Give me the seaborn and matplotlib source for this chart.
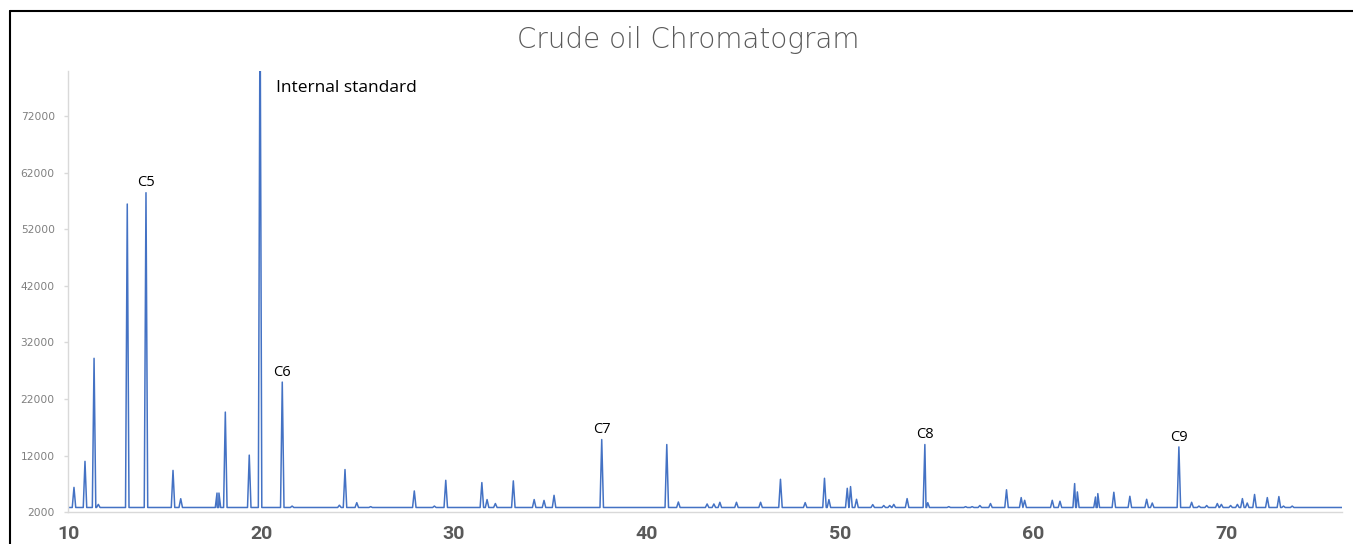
import numpy as np
import pandas as pd
import matplotlib
matplotlib.use("Agg")
import matplotlib.pyplot as plt
from matplotlib.lines import Line2D
import seaborn as sns

# ---- data ----
retention_times = [10.31, 10.88, 11.35, 11.57, 13.07, 14.04, 15.44, 15.84, 17.72, 17.82, 18.15, 19.39,
                   19.95, 21.10, 21.61,
                   24.06, 24.35, 24.96, 25.68, 27.94, 28.98, 29.57, 31.44, 31.71, 32.14, 33.07, 34.15,
                   34.66, 35.18, 37.65, 41.02, 41.62,
                   43.11, 43.46, 43.77, 44.63, 45.88, 46.91, 48.19, 49.19, 49.42, 50.37, 50.54, 50.85,
                   51.69, 52.26, 52.57, 52.78, 53.47, 54.39, 54.54, 55.63, 56.50, 56.84, 57.24, 57.79,
                   58.62, 59.38, 59.56, 60.99, 61.39, 62.15, 62.29, 63.23, 63.35, 64.18, 65.01, 65.88,
                   66.17, 67.55, 68.21, 68.59, 68.99, 69.54, 69.75, 70.23, 70.58, 70.84, 71.09, 71.47,
                   72.13, 72.73, 72.97, 73.42]
peak_heights = [6400, 11000, 29200, 3400, 56450, 58450, 9400, 4400, 5400, 5400, 19700, 12100,
                95000, 25000, 3100,
                3250, 9550, 3700, 3000, 5770, 3100, 7650, 7250, 4250, 3550, 7550, 4250,
                4100, 5000, 14850, 13970, 3820,
                3470, 3470, 3770, 3770, 3770, 7830, 3710, 8010, 4240, 6240, 6540, 4300,
                3360, 3200, 3200, 3400, 4420, 13970, 3700, 3000, 3000, 3000, 3200, 3550,
                5980, 4600, 4120, 4120, 3950, 7070, 5600, 4700, 5300, 5540, 4830, 4300,
                3640, 13550, 3770, 3100, 3200, 3550, 3400, 3200, 3400, 4420, 3640, 5150,
                4600, 4780, 3100, 3100]
baseline_signal = 2850
run_start, run_end = 10.0, 76.0

annot_labels = ["C5", "C6", "C7", "C8", "C9"]
annot_rt = [14.04, 21.10, 37.65, 54.39, 67.55]
annot_h = [58450, 25000, 14850, 13970, 13550]

y_ticks = [2000, 12000, 22000, 32000, 42000, 52000, 62000, 72000]
x_ticks = [10, 20, 30, 40, 50, 60, 70]

# ---- build the trace (base - apex - base for each peak) ----
hw = 0.09
xs = [run_start, run_end]
ys = [baseline_signal, baseline_signal]
for t, h in zip(retention_times, peak_heights):
    xs += [t - hw, t, t + hw]
    ys += [baseline_signal, h, baseline_signal]
order = np.argsort(np.array(xs), kind="stable")
df = pd.DataFrame({"rt": np.array(xs)[order], "signal": np.array(ys)[order]})

# ---- plot ----
sns.set_style("white")
plt.rcParams["font.family"] = ["DejaVu Sans"]

W, H = 1353, 544
fig = plt.figure(figsize=(W / 100, H / 100), dpi=100)
ax = fig.add_axes([68 / W, 1 - 512.3 / H, (1342 - 68) / W, (512.3 - 70.7) / H])

sns.lineplot(data=df, x="rt", y="signal", ax=ax, estimator=None, sort=False,
             color="#4472C4", linewidth=1.1)

ax.set_xlim(run_start, run_end)
ax.set_ylim(2000, 80000)
ax.set_xticks(x_ticks)
ax.set_yticks(y_ticks)
ax.set_xlabel("")
ax.set_ylabel("")

for side in ["top", "right"]:
    ax.spines[side].set_visible(False)
for side in ["left", "bottom"]:
    ax.spines[side].set_color("#D9D9D9")
    ax.spines[side].set_linewidth(1.0)

ax.tick_params(axis="y", length=3, width=1, color="#D9D9D9", pad=6.5,
               labelsize=7.7, labelcolor="#7F7F7F", direction="out", left=True)
ax.tick_params(axis="x", length=0, pad=9.5, labelsize=14, labelcolor="#595959")
for lbl in ax.get_xticklabels():
    lbl.set_fontfamily("Roboto")
    lbl.set_fontweight("bold")

fig.text(688 / W, 1 - 40 / H, "Crude oil Chromatogram", ha="center", va="center",
         fontsize=20, color="#595959", fontweight="light")

ax.annotate("Internal standard", xy=(20.8, 77000), ha="left", va="center",
            fontsize=12.5, color="black", family="Open Sans")
for lab, t, h in zip(annot_labels, annot_rt, annot_h):
    ax.annotate(lab, xy=(t, h), xytext=(0, 7), textcoords="offset points",
                ha="center", va="center", fontsize=10.5, color="black", family="Open Sans")

# outer frame (left and top edges visible)
fig.add_artist(Line2D([10 / W, 10 / W], [0, 1 - 11 / H], transform=fig.transFigure,
                      color="black", linewidth=1.5))
fig.add_artist(Line2D([10 / W, 1], [1 - 11 / H, 1 - 11 / H], transform=fig.transFigure,
                      color="black", linewidth=1.5))

fig.savefig("out.png", dpi=100)
